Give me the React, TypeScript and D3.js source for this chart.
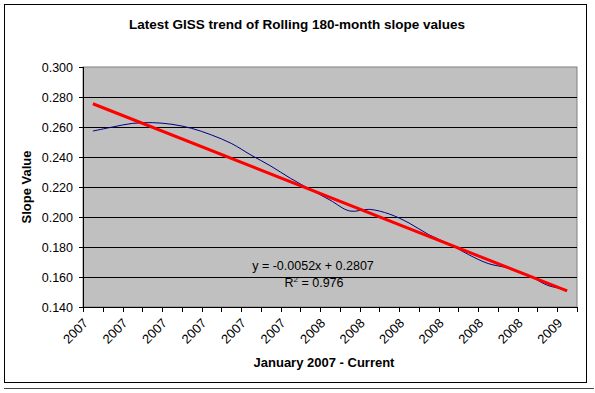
import React from "react";
import * as d3 from "d3";

// monthly values, Jan 2007 .. Jan 2009
const years = [
  "2007", "2007", "2007", "2007", "2007", "2007", "2007", "2007", "2007", "2007", "2007", "2007",
  "2008", "2008", "2008", "2008", "2008", "2008", "2008", "2008", "2008", "2008", "2008", "2008",
  "2009",
];
const slopes = [
  0.2573, 0.26, 0.2624, 0.2629, 0.2618, 0.2591, 0.2547, 0.2491, 0.2413, 0.234, 0.2258, 0.2184,
  0.2113, 0.204, 0.2051, 0.202, 0.196, 0.1882, 0.1822, 0.175, 0.169, 0.166, 0.1615, 0.1545, 0.1515,
];
const yTicks = [0.14, 0.16, 0.18, 0.2, 0.22, 0.24, 0.26, 0.28, 0.3];
const trendSlope = -0.0052;
const trendIntercept = 0.2807;
const rSquared = 0.976;

const width = 595;
const height = 393;
const plot = { left: 83, right: 577, top: 67, bottom: 307 };
const font = "'Liberation Sans', Arial, sans-serif";

const App: React.FC = () => {
  const idx = d3.range(slopes.length);
  const x = d3.scaleBand<number>().domain(idx).range([plot.left, plot.right]).padding(0);
  const y = d3.scaleLinear().domain([0.14, 0.3]).range([plot.bottom, plot.top]);
  const cx = (i: number) => (x(i) ?? 0) + x.bandwidth() / 2;

  const line = d3
    .line<number>()
    .x((_, i) => cx(i))
    .y((d) => y(d))
    .curve(d3.curveCatmullRom.alpha(0.5));

  const trend = (i: number) => trendIntercept + trendSlope * (i + 1);
  const last = slopes.length - 1;

  const boundaries = d3.range(slopes.length + 1).map((i) => plot.left + i * x.bandwidth());

  return (
    <svg
      width={width}
      height={height}
      style={{ position: "absolute", left: 0, top: 0, background: "#fff" }}
      fontFamily={font}
    >
      <rect x={4.5} y={4.5} width={582} height={378} fill="#fff" stroke="#000" />
      <line x1={4} x2={594} y1={388.5} y2={388.5} stroke="#444" />

      <text x={297} y={29} textAnchor="middle" fontSize={13.5} fontWeight="bold">
        Latest GISS trend of Rolling 180-month slope values
      </text>

      <rect
        x={plot.left}
        y={plot.top}
        width={plot.right - plot.left}
        height={plot.bottom - plot.top}
        fill="#c0c0c0"
        stroke="#808080"
      />

      {yTicks.slice(1, -1).map((t) => (
        <line key={t} x1={plot.left} x2={plot.right} y1={Math.round(y(t)) + 0.5} y2={Math.round(y(t)) + 0.5} stroke="#000" />
      ))}

      {/* y axis */}
      <line x1={plot.left + 0.5} x2={plot.left + 0.5} y1={plot.top} y2={plot.bottom} stroke="#000" />
      {yTicks.map((t) => (
        <g key={t}>
          <line x1={plot.left - 4} x2={plot.left} y1={Math.round(y(t)) + 0.5} y2={Math.round(y(t)) + 0.5} stroke="#000" />
          <text x={73} y={y(t) + 4.5} textAnchor="end" fontSize={12.5}>
            {t.toFixed(3)}
          </text>
        </g>
      ))}

      {/* x axis */}
      <line x1={plot.left} x2={plot.right} y1={plot.bottom + 0.5} y2={plot.bottom + 0.5} stroke="#000" />
      {boundaries.map((b, i) => (
        <line key={i} x1={Math.round(b) + 0.5} x2={Math.round(b) + 0.5} y1={plot.bottom} y2={plot.bottom + 5} stroke="#000" />
      ))}
      {years.map((yr, i) =>
        i % 2 === 0 ? (
          <text
            key={i}
            transform={`translate(${cx(i) - 4},${plot.bottom + 17}) rotate(-45)`}
            textAnchor="end"
            fontSize={13}
          >
            {yr}
          </text>
        ) : null
      )}

      <path d={line(slopes) ?? ""} fill="none" stroke="#000080" strokeWidth={1} />
      <line
        x1={cx(0)}
        y1={y(trend(0))}
        x2={cx(last)}
        y2={y(trend(last))}
        stroke="#ff0000"
        strokeWidth={3}
      />

      <text x={313} y={270} textAnchor="middle" fontSize={12.5}>
        y = -0.0052x + 0.2807
      </text>
      <text x={314} y={287} textAnchor="middle" fontSize={12.5}>
        R<tspan dy={-5} fontSize={8}>2</tspan>
        <tspan dy={5}> = {rSquared}</tspan>
      </text>

      <text
        transform={`translate(31,${(plot.top + plot.bottom) / 2}) rotate(-90)`}
        textAnchor="middle"
        fontSize={13}
        fontWeight="bold"
      >
        Slope Value
      </text>
      <text x={324} y={367} textAnchor="middle" fontSize={13} fontWeight="bold">
        January 2007 - Current
      </text>
    </svg>
  );
};

export default App;
